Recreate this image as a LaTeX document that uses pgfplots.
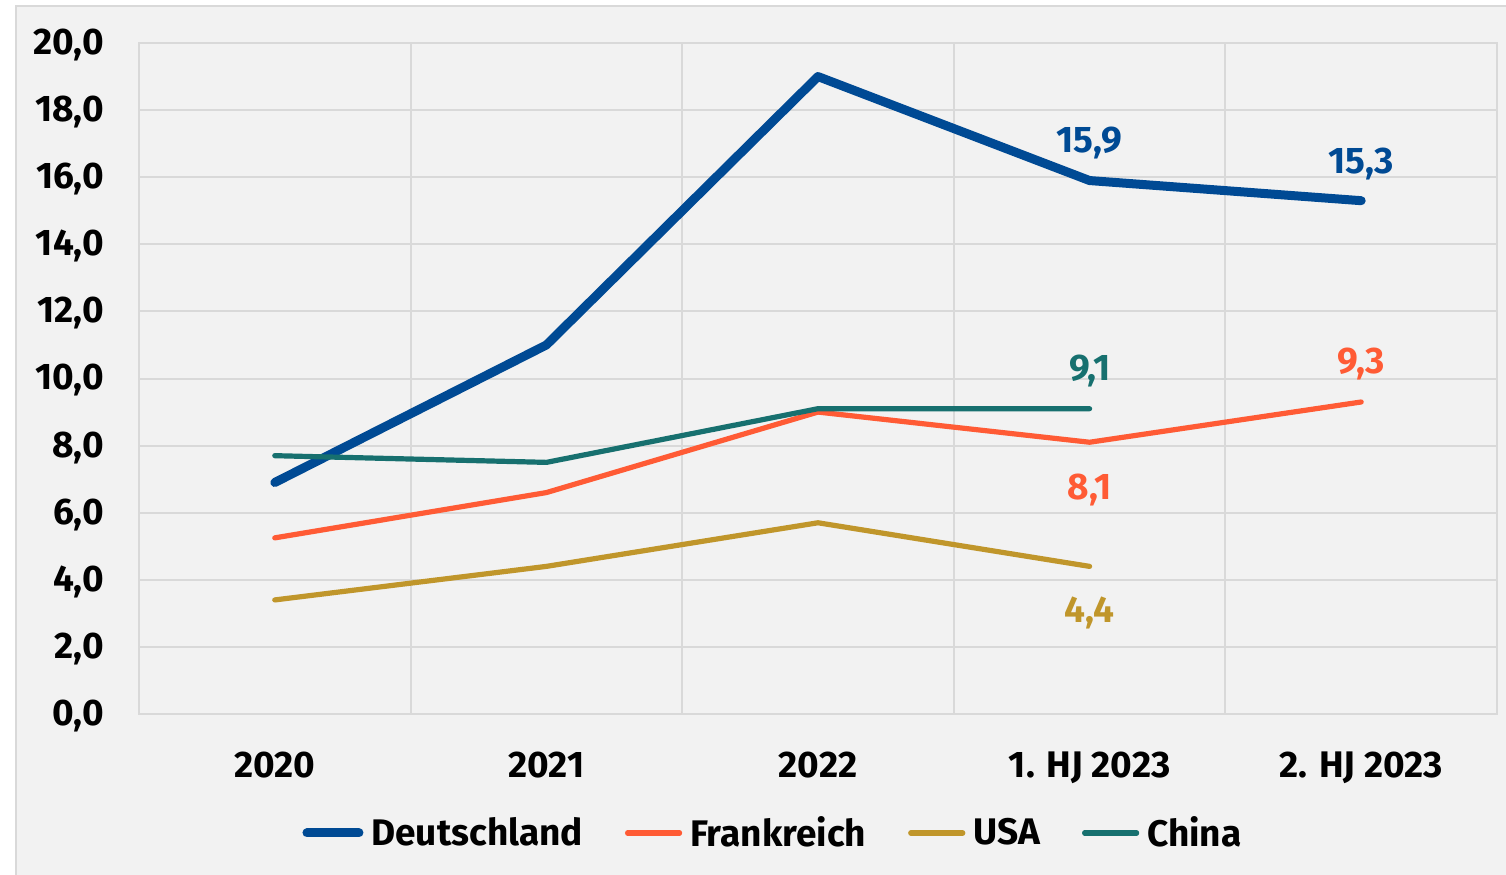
\documentclass[border=0pt]{standalone}
\usepackage{pgfplots}
\pgfplotsset{compat=1.18}
\usepackage{fontspec}
\setmainfont{Fira Sans}
\definecolor{bg}{HTML}{F2F2F2}
\definecolor{gridc}{HTML}{D9D9D9}
\definecolor{de}{HTML}{004A94}
\definecolor{fr}{HTML}{FF5B35}
\definecolor{us}{HTML}{C0962B}
\definecolor{cn}{HTML}{17706F}
\newcommand{\lf}{\fontsize{18.5}{22}\selectfont\bfseries}
\begin{document}
\begin{tikzpicture}
\useasboundingbox (-69.5pt,-80pt) rectangle (683.5pt,357pt);
\fill[white] (-69.5pt,-80pt) rectangle (683.5pt,357pt);
\filldraw[fill=bg,draw=gridc,line width=1pt] (-61.5pt,-81pt) rectangle (684.5pt,354pt);
\begin{axis}[
  scale only axis, width=679pt, height=335.5pt,
  xmin=-0.5, xmax=4.5, ymin=0, ymax=20,
  xtick={0,1,2,3,4},
  xticklabels={2020,2021,2022,1. HJ 2023,2. HJ 2023},
  minor xtick={-0.5,0.5,1.5,2.5,3.5,4.5},
  ytick={0,2,...,20},
  xminorgrids, ymajorgrids,
  grid style={gridc,line width=1pt},
  minor grid style={gridc,line width=1pt},
  axis line style={gridc,line width=1pt},
  major tick length=0pt, minor tick length=0pt,
  tick style={draw=none},
  /pgf/number format/assume math mode=true,
  yticklabel={\pgfmathprintnumber[fixed,fixed zerofill,precision=1,use comma]{\tick}},
  ticklabel style={font=\lf, text=black},
  xticklabel style={yshift=-15.5pt},
  yticklabel style={xshift=-14pt, yshift=-1pt},
  legend columns=4,
  legend style={at={(0.4676,-0.1773)}, anchor=center, draw=none, fill=none,
     font=\lf,
     /tikz/every even column/.append style={column sep=19pt},
     /tikz/every odd column/.append style={column sep=2pt}},
  legend cell align=left,
  legend image code/.code={\draw[#1,line cap=round] (0pt,0pt) -- (26pt,0pt);},
  every axis plot/.append style={line cap=round, line join=round},
]
\addplot[de, line width=4.5pt] coordinates {(0,6.9) (1,11.0) (2,19.0) (3,15.9) (4,15.3)};
\addlegendentry{Deutschland}
\addplot[fr, line width=2.6pt] coordinates {(0,5.25) (1,6.6) (2,9.0) (3,8.1) (4,9.3)};
\addlegendentry{Frankreich}
\addplot[us, line width=2.6pt] coordinates {(0,3.4) (1,4.4) (2,5.7) (3,4.4)};
\addlegendentry{USA}
\addplot[cn, line width=2.6pt] coordinates {(0,7.7) (1,7.5) (2,9.1) (3,9.1)};
\addlegendentry{China}
\begin{scope}[every node/.style={font=\lf}]
\node[text=de] at (axis cs:3,15.9) [yshift=19pt] {15,9};
\node[text=de] at (axis cs:4,15.3) [yshift=18.5pt] {15,3};
\node[text=cn] at (axis cs:3,9.1) [yshift=19pt] {9,1};
\node[text=fr] at (axis cs:4,9.3) [yshift=19pt] {9,3};
\node[text=fr] at (axis cs:3,8.1) [yshift=-24pt] {8,1};
\node[text=us] at (axis cs:3,4.4) [yshift=-23.5pt] {4,4};
\end{scope}
\end{axis}
\end{tikzpicture}
\end{document}
